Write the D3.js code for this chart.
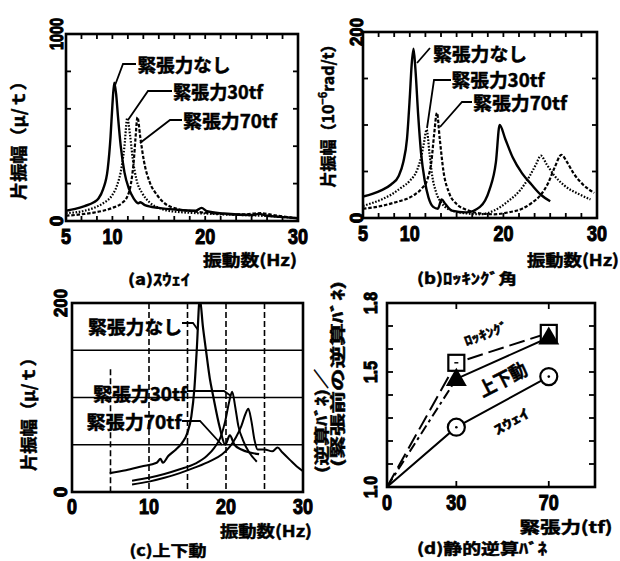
<!DOCTYPE html>
<html><head><meta charset="utf-8">
<script src="https://cdn.jsdelivr.net/npm/d3@7"></script>
<style>body{margin:0;background:#fff}svg{display:block}</style>
</head><body>
<script>
// ---------- DATA ----------
// (a) sway amplitude (μ/t) vs frequency (Hz)
const aNoneHz = [5,6,7,8,8.5,9,9.5,9.8,10.0,10.2,10.4,10.6,10.9,11.3,11.8,12.3,12.8,13.0,13.5,15,17,19,19.6,20.2,22,25,25.8,26.5,28,30];
const aNoneV  = [55,65,80,100,120,170,280,450,620,740,680,560,400,260,170,120,95,100,85,70,60,55,70,52,40,32,38,30,22,15];
const a30Hz = [5,7,8,9,10,10.5,11,11.3,11.6,11.9,12.2,12.6,13.2,14,15,16,18,20,22,25,27,30];
const a30V  = [42,55,70,95,140,190,290,400,550,460,330,220,150,100,70,55,45,40,35,30,26,15];
const a70Hz = [5,7,8,9,10,11,11.6,12,12.3,12.5,12.7,13.0,13.4,14,14.8,15.5,17,19,21,24,26,27.5,30];
const a70V  = [28,38,45,55,70,95,130,200,320,450,555,450,320,210,140,100,65,50,40,35,42,30,15];
const aXTicks = [5,10,20,30];
const aYTicks = ["0","1000"];

// (b) rocking angle amplitude (10^-6 rad/t)
const bNoneHz = [5,6,7,8,8.8,9.3,9.7,10.0,10.2,10.4,10.6,10.9,11.2,11.6,12.0,12.5,13.0,13.4,13.8,14.5,16,17.5,18.5,19.2,19.6,20.2,21,22,23,24,25];
const bNoneV  = [23,26,30,36,45,60,85,130,165,182,160,110,70,40,22,12,10,20,15,8,6,12,30,60,100,85,65,48,36,25,18];
const b30Hz = [5,7,8,9,10,10.8,11.2,11.5,11.8,12.1,12.4,12.8,13.4,14.5,16,17.5,19,20.5,21.8,22.8,23.5,24.0,24.6,25.5,26.5,28,29.3];
const b30V  = [13,20,25,32,40,52,65,80,95,70,45,28,16,8,5,4,8,18,30,45,58,67,58,45,35,26,20];
const b70Hz = [5,7,8.5,9.5,10.5,11.3,11.9,12.3,12.6,12.9,13.2,13.6,14.2,15,16,17.5,19,20.5,22,23,24,24.8,25.5,26.2,26.8,27.5,28.5,29.7];
const b70V  = [10,13,17,20,25,32,42,60,90,113,85,50,27,15,9,5,4,6,10,16,25,38,55,68,60,48,36,27];
const bXTicks = [5,10,20,30];
const bYTicks = ["0","200"];

// (c) vertical amplitude (μ/t)
const cNoneHz = [4.9,7,9,11,11.5,11.8,12.5,13.5,14.3,15,15.5,15.9,16.2,16.6,17.0,17.4,17.9,18.3,19.2,19.9,20.5,21.1,22,23,24.3];
const cNoneV  = [20,23,27,31,35,31,38,45,52,63,80,110,150,205,175,150,120,103,68,50,60,50,45,42,40];
const c30Hz = [7.8,10,12,14,16,17.5,18.5,19.3,19.9,20.4,20.8,21.2,21.6,22.2,23,24];
const c30V  = [12,15,19,24,30,38,47,58,75,95,106,90,70,55,42,32];
const c70Hz = [7.8,10,12,14,16,18,19.5,20.5,21.3,22,22.5,22.9,23.3,23.7,24.1,25,26,26.7,27.3,28.3,29.2,30];
const c70V  = [8,11,15,20,26,33,40,48,58,70,82,88,75,55,45,45,43,47,42,34,27,22];
const cXTicks = [0,10,20,30];
const cYTicks = ["0","200"];
const cGridX = [5,10,15,20,25];
const cGridY = [50,100,150];

// (d) static back-calculated spring ratio
const tension = [0,30,70];
const rocking = [1.0,1.54,1.67];
const updown  = [1.0,1.47,1.65];
const sway    = [1.0,1.26,1.48];
const dXTicks = [0,30,70];
const dYTicks = [1.0,1.5,1.8];
const dYTickLabels = ["1.0","1.5","1.8"];

// ---------- DRAW ----------
const NUM = "'Liberation Sans Narrow','Liberation Sans',Arial,sans-serif";
const JP = "'Noto Sans CJK JP','Noto Sans CJK SC',sans-serif";
const svg = d3.select("body").append("svg").attr("width",620).attr("height",561);
svg.append("rect").attr("width",620).attr("height",561).attr("fill","#fff");

function txt(x,y,s,o={}){
  const t = svg.append("text").attr("x",x).attr("y",y).text(s)
    .attr("font-family",o.font||JP).attr("font-weight","bold")
    .attr("font-size",o.size||16).attr("text-anchor",o.anchor||"middle")
    .attr("dominant-baseline","central").attr("fill","#000")
    .attr("stroke","#000").attr("stroke-width",o.sw!==undefined?o.sw:0.5);
  if(o.len) t.attr("textLength",o.len).attr("lengthAdjust","spacingAndGlyphs");
  if(o.rot!==undefined) t.attr("transform",`rotate(${o.rot},${x},${y})`);
  return t;
}
const num=(x,y,s,o={})=>txt(x,y,s,Object.assign({font:NUM,size:22,sw:1.1},o));
function leader(pts){
  svg.append("polyline").attr("points",pts.map(p=>p.join(",")).join(" "))
    .attr("fill","none").attr("stroke","#000").attr("stroke-width",1.8);
}
function frame(x,y){
  const [x0,x1]=x.range(), [y0,y1]=y.range();
  svg.append("rect").attr("x",x0).attr("y",y1).attr("width",x1-x0).attr("height",y0-y1)
    .attr("fill","none").attr("stroke","#000").attr("stroke-width",2.6);
}
function ticks(x,y,xt,yt,len){
  const [x0,x1]=x.range(), [y0,y1]=y.range();
  const g=svg.append("g").attr("stroke","#000").attr("stroke-width",1.8);
  xt.forEach(v=>{const p=x(v);
    g.append("line").attr("x1",p).attr("x2",p).attr("y1",y0).attr("y2",y0-len);
    g.append("line").attr("x1",p).attr("x2",p).attr("y1",y1).attr("y2",y1+len);});
  yt.forEach(v=>{const p=y(v);
    g.append("line").attr("x1",x0).attr("x2",x0+len).attr("y1",p).attr("y2",p);
    g.append("line").attr("x1",x1).attr("x2",x1-len).attr("y1",p).attr("y2",p);});
}
let clipN=0;
function curve(x,y,hz,v,dash,w){
  const id="clip"+(clipN++);
  const [x0,x1]=x.range(), [y0,y1]=y.range();
  svg.append("clipPath").attr("id",id).append("rect").attr("x",x0).attr("y",y1).attr("width",x1-x0).attr("height",y0-y1);
  const line=d3.line().x(d=>x(d[0])).y(d=>y(d[1])).curve(d3.curveMonotoneX);
  svg.append("path").attr("d",line(d3.zip(hz,v))).attr("fill","none")
    .attr("stroke","#000").attr("stroke-width",w||2.2).attr("clip-path",`url(#${id})`)
    .attr("stroke-dasharray",dash||null).attr("stroke-linejoin","round");
}

// ===== (a) =====
{
  const x=d3.scaleLinear().domain([5,30]).range([66,298]);
  const y=d3.scaleLinear().domain([0,1000]).range([221,34]);
  ticks(x,y,d3.range(0,16).map(i=>5+i*25/15),[200,400,600,800],5);
  curve(x,y,a70Hz,a70V,"3.5,1.8",2.2);
  curve(x,y,a30Hz,a30V,"1.6,1.6",2.2);
  curve(x,y,aNoneHz,aNoneV,null,2.4);
  frame(x,y);
  aXTicks.forEach(v=>num(x(v),236,String(v),{len:String(v).length*10}));
  num(56,y(0),aYTicks[0],{size:19,rot:-90});
  num(56,y(1000),aYTicks[1],{size:19,rot:-90,len:32});
  txt(17,136,"片振幅（μ/ｔ）",{size:17,rot:-90,len:128});
  txt(250,259,"振動数(Hz)",{size:16,len:94});
  txt(159,278,"(a)ｽｳｪｲ",{size:15,len:62});
  txt(184,64,"緊張力なし",{size:18,len:93});
  leader([[136,64],[123,64],[114,88]]);
  txt(218,91,"緊張力30tf",{size:18,len:90});
  leader([[172,91],[148,91],[128,120]]);
  txt(230,120,"緊張力70tf",{size:18,len:94});
  leader([[182,120],[170,120],[140,143]]);
}
// ===== (b) =====
{
  const x=d3.scaleLinear().domain([5,30]).range([363,597]);
  const y=d3.scaleLinear().domain([0,200]).range([218,32]);
  ticks(x,y,d3.range(0,16).map(i=>5+i*25/15),[50,100,150],5);
  curve(x,y,b70Hz,b70V,"3.5,1.8",2.2);
  curve(x,y,b30Hz,b30V,"1.6,1.6",2.2);
  curve(x,y,bNoneHz,bNoneV,null,2.4);
  frame(x,y);
  bXTicks.forEach(v=>num(x(v),233,String(v),{len:String(v).length*10}));
  num(356,y(0),bYTicks[0],{size:19,rot:-90});
  num(356,y(200),bYTicks[1],{size:19,rot:-90,len:28});
  const t=svg.append("text").attr("transform","translate(327,112) rotate(-90)")
    .attr("text-anchor","middle").attr("dominant-baseline","central")
    .attr("font-family",JP).attr("font-weight","bold").attr("font-size",16)
    .attr("stroke","#000").attr("stroke-width",0.5);
  t.append("tspan").text("片振幅（10");
  t.append("tspan").attr("dy",-5).attr("font-size",11).text("−6");
  t.append("tspan").attr("dy",5).text("rad/t）");
  txt(573,259,"振動数(Hz)",{size:16,len:92});
  txt(467,277,"(b)ﾛｯｷﾝｸﾞ角",{size:15,len:100});
  txt(480,53,"緊張力なし",{size:18,len:94});
  leader([[430,48],[417,63]]);
  txt(498,79,"緊張力30tf",{size:18,len:93});
  leader([[451,80],[434,80],[427,128]]);
  txt(520,102,"緊張力70tf",{size:18,len:94});
  leader([[472,102],[462,102],[440,127]]);
}
// ===== (c) =====
{
  const x=d3.scaleLinear().domain([0,30]).range([72,303]);
  const y=d3.scaleLinear().domain([0,200]).range([492,303]);
  const g=svg.append("g");
  cGridY.forEach(v=>g.append("line").attr("x1",x(0)).attr("x2",x(30)).attr("y1",y(v)).attr("y2",y(v))
    .attr("stroke","#000").attr("stroke-width",1.6));
  cGridX.forEach((v,i)=>g.append("line").attr("x1",x(v)).attr("x2",x(v))
    .attr("y1",i===0?y(130):y(200)).attr("y2",y(0))
    .attr("stroke","#000").attr("stroke-width",1.6).attr("stroke-dasharray","6,3"));
  curve(x,y,c70Hz,c70V,null,2);
  curve(x,y,c30Hz,c30V,null,2);
  curve(x,y,cNoneHz,cNoneV,null,2.2);
  frame(x,y);
  cXTicks.forEach(v=>num(x(v),506,String(v),{len:String(v).length*10}));
  num(60,y(0),cYTicks[0],{size:19,rot:-90});
  num(60,y(200),cYTicks[1],{size:19,rot:-90,len:28});
  txt(27,410,"片振幅（μ/ｔ）",{size:17,rot:-90,len:122});
  txt(266,530,"振動数(Hz)",{size:16,len:92});
  txt(168,549,"(c)上下動",{size:15,len:77});
  txt(135,326,"緊張力なし",{size:18,len:94});
  leader([[182,323],[193,323],[198,330]]);
  txt(140,393,"緊張力30tf",{size:18,len:94});
  leader([[187,391],[224,391],[231,396]]);
  txt(134,421,"緊張力70tf",{size:18,len:95});
  leader([[182,421],[200,421],[222,445]]);
}
// ===== (d) =====
{
  const x=d3.scaleLinear().domain([0,90]).range([387,595]);
  const y=d3.scaleLinear().domain([1.0,1.8]).range([487,303]);
  ticks(x,y,[30,70],d3.range(1,8).map(i=>1+i*0.1),6);
  const line=d3.line().x(d=>x(d[0])).y(d=>y(d[1]));
  const path=(pts,dash,w)=>svg.append("path").attr("d",line(pts)).attr("fill","none")
    .attr("stroke","#000").attr("stroke-width",w||2).attr("stroke-dasharray",dash||null);
  const R=d3.zip(tension,rocking), U=d3.zip(tension,updown), S=d3.zip(tension,sway);
  path(R,"16,6",2);
  path(U.slice(0,2),"10,4,3,4",2);
  path(U.slice(1),null,2);
  path(S,null,2);
  frame(x,y);
  const sq=svg.append("g");
  R.slice(1).forEach(d=>{
    sq.append("rect").attr("x",x(d[0])-8).attr("y",y(d[1])-8).attr("width",16).attr("height",16)
      .attr("fill","#fff").attr("stroke","#000").attr("stroke-width",2.2);
    sq.append("line").attr("x1",x(d[0])-2).attr("x2",x(d[0])+2).attr("y1",y(d[1])).attr("y2",y(d[1]))
      .attr("stroke","#000").attr("stroke-width",1.5);
  });
  const tri=d3.symbol().type(d3.symbolTriangle).size(190);
  U.slice(1).forEach(d=>svg.append("path").attr("d",tri()).attr("transform",`translate(${x(d[0])},${y(d[1])+1})`)
    .attr("fill","#000"));
  S.slice(1).forEach(d=>{
    svg.append("circle").attr("cx",x(d[0])).attr("cy",y(d[1])).attr("r",8.5)
      .attr("fill","#fff").attr("stroke","#000").attr("stroke-width",2.2);
    svg.append("circle").attr("cx",x(d[0])).attr("cy",y(d[1])).attr("r",1.3).attr("fill","#000");
  });
  dXTicks.forEach(v=>num(x(v),502,String(v),{len:String(v).length*10}));
  dYTicks.forEach((v,i)=>num(370,y(v),dYTickLabels[i],{size:19,rot:-90,len:22}));
  txt(320,421,"(逆算ﾊﾞﾈ)／",{size:15,rot:-90,len:104});
  txt(336,374,"(緊張前の逆算ﾊﾞﾈ)",{size:15,rot:-90,len:186});
  txt(566,526,"緊張力(tf)",{size:16,len:93});
  txt(482,547,"(d)静的逆算ﾊﾞﾈ",{size:15,len:130});
  txt(486,333,"ﾛｯｷﾝｸﾞ",{size:13,rot:-20,len:46});
  txt(502,378,"上下動",{size:19,rot:-27,len:52});
  txt(511,421,"ｽｳｪｲ",{size:13,rot:-30,len:38});
}
</script>
</body></html>
